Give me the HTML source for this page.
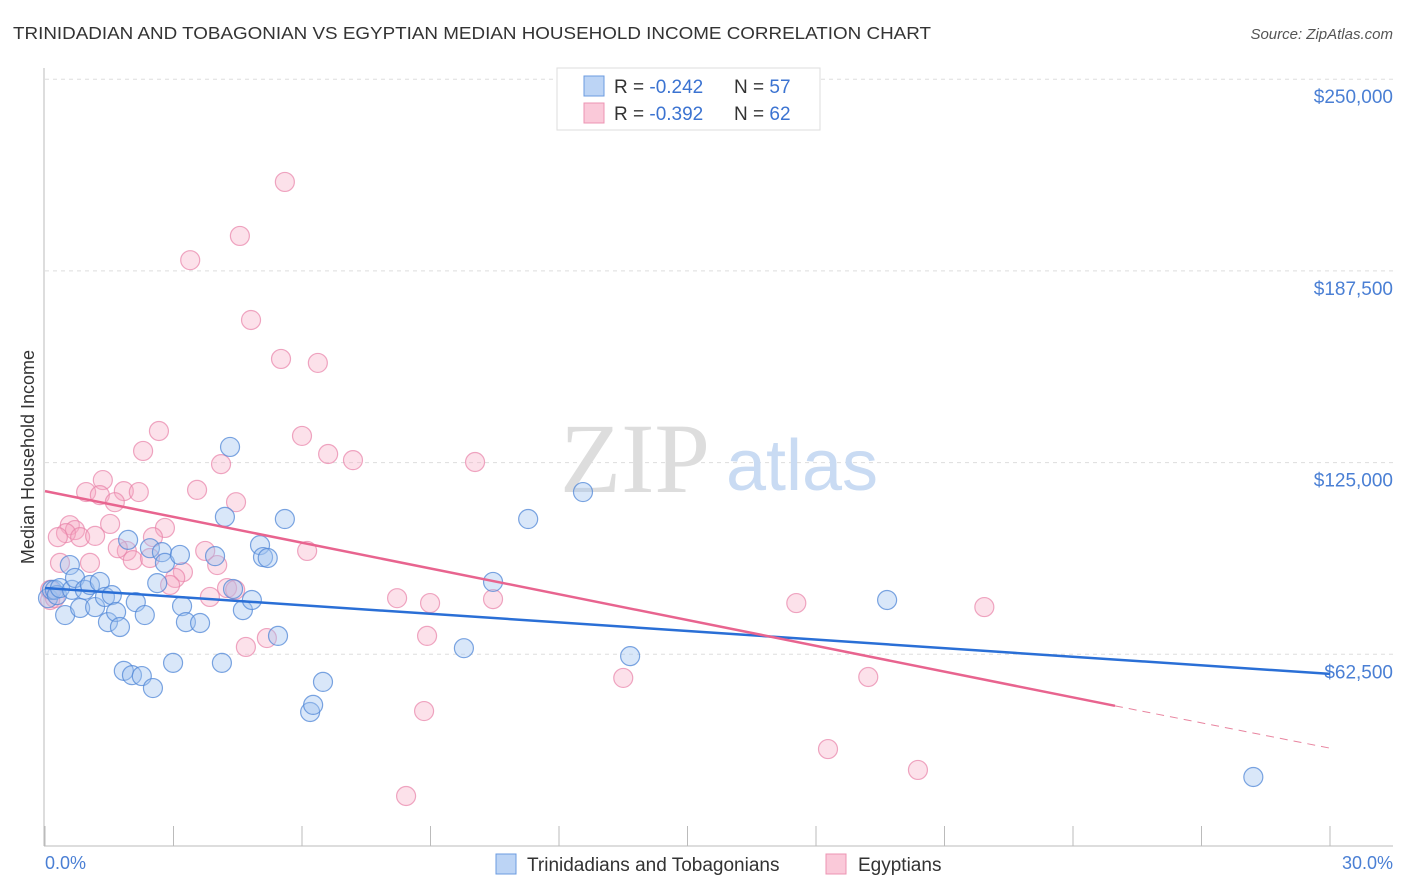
<!DOCTYPE html>
<html><head><meta charset="utf-8"><style>
body{margin:0;background:#fff;font-family:"Liberation Sans",sans-serif}
svg{display:block}
</style></head><body>
<svg width="1406" height="892" viewBox="0 0 1406 892">
<text x="13" y="39" font-size="17.5" fill="#333" textLength="918" lengthAdjust="spacingAndGlyphs">TRINIDADIAN AND TOBAGONIAN VS EGYPTIAN MEDIAN HOUSEHOLD INCOME CORRELATION CHART</text>
<text x="1393" y="39" font-size="15" fill="#555" font-style="italic" text-anchor="end">Source: ZipAtlas.com</text>
<g id="grid"></g>
<g>
<text x="635" y="492" font-size="100" font-family="Liberation Serif,serif" fill="#ddd" text-anchor="middle">ZIP</text>
<text x="802" y="490" font-size="72" fill="#c9dbf3" text-anchor="middle">atlas</text>
</g>
<g id="axes"></g>
<g id="pts"></g>
<g id="lines"></g>
<text transform="translate(34,457) rotate(-90)" font-size="18" fill="#333" text-anchor="middle">Median Household Income</text>
<text x="45" y="869" font-size="18" fill="#4a7fd4">0.0%</text>
<text x="1393" y="869" font-size="18" fill="#4a7fd4" text-anchor="end">30.0%</text>
<g>
<rect x="557" y="68" width="263" height="62" fill="#fff" stroke="#ddd"/>
<rect x="584" y="76" width="20" height="20" fill="#bcd4f5" stroke="#6b9be0"/>
<rect x="584" y="103" width="20" height="20" fill="#fac9d9" stroke="#ec94b3"/>
<text x="614" y="93" font-size="19" fill="#333">R = <tspan fill="#3b73d1">-0.242</tspan></text>
<text x="734" y="93" font-size="19" fill="#333">N = <tspan fill="#3b73d1">57</tspan></text>
<text x="614" y="120" font-size="19" fill="#333">R = <tspan fill="#3b73d1">-0.392</tspan></text>
<text x="734" y="120" font-size="19" fill="#333">N = <tspan fill="#3b73d1">62</tspan></text>
</g>
<g>
<rect x="496" y="854" width="20" height="20" fill="#bcd4f5" stroke="#6b9be0"/>
<text x="527" y="871" font-size="19" fill="#333">Trinidadians and Tobagonians</text>
<rect x="826" y="854" width="20" height="20" fill="#fac9d9" stroke="#ec94b3"/>
<text x="858" y="871" font-size="19" fill="#333">Egyptians</text>
</g>
</svg>
<script>
const yTicks=[62500,125000,187500,250000];
const yTickLabels=["$62,500","$125,000","$187,500","$250,000"];
const blueX=[0.07,0.16,0.23,0.28,0.35,0.47,0.58,0.63,0.70,0.82,0.93,1.05,1.17,1.28,1.40,1.47,1.56,1.66,1.75,1.84,1.94,2.03,2.12,2.26,2.33,2.45,2.52,2.62,2.73,2.80,2.99,3.15,3.20,3.29,3.62,3.97,4.13,4.20,4.32,4.39,4.62,4.83,5.02,5.09,5.20,5.44,5.60,6.19,6.26,6.49,9.78,10.46,11.28,12.56,13.66,19.66,28.21];
const blueY=[80.8,83.5,83.5,81.8,84.1,75.3,91.6,83.5,87.4,77.6,83.5,85.1,77.9,86.1,81.2,73.0,81.8,76.3,71.4,57.1,99.8,55.7,79.5,55.4,75.3,97.1,51.5,85.7,95.8,92.3,59.7,94.9,78.2,73.0,72.7,94.5,59.7,107.3,130.1,83.8,76.9,80.2,98.1,94.2,93.9,68.5,106.6,43.7,46.0,53.5,64.5,86.1,106.6,115.4,61.9,80.2,22.5];
const pinkX=[5.60,4.55,3.39,4.81,5.51,6.37,2.66,6.00,2.29,6.61,7.19,10.04,4.11,1.35,0.96,1.28,1.84,2.19,3.55,4.46,1.63,2.80,0.58,0.70,0.49,0.82,1.52,0.30,1.17,2.52,1.91,1.70,2.05,2.45,3.74,6.12,1.05,0.35,4.02,3.22,3.04,2.92,4.25,3.85,4.44,0.12,0.12,0.23,8.22,8.99,10.46,17.54,21.93,5.18,4.69,8.92,13.50,19.22,8.85,18.28,20.38,8.43];
const pinkY=[216.5,198.9,191.0,171.5,158.8,157.5,135.3,133.7,128.8,127.8,125.8,125.2,124.5,119.3,115.4,114.4,115.7,115.4,116.1,112.1,112.1,103.7,104.6,103.0,102.0,100.7,105.0,100.7,101.1,100.7,96.2,97.1,93.2,93.9,96.2,96.2,92.3,92.3,91.6,89.3,87.4,85.1,84.1,81.2,83.5,83.5,80.2,80.8,80.8,79.2,80.5,79.2,77.9,67.8,64.9,68.5,54.8,55.1,44.0,31.6,24.8,16.3];
const blueTrend=[[0,84.1],[30,56.1]];
const pinkTrend=[[0,115.7],[24.98,45.7],[30,31.9]];
const NS="http://www.w3.org/2000/svg";
const X=v=>45+v/30*1285;
const Y=v=>846-v/62.5*191.7;
function mk(t,a,p){const e=document.createElementNS(NS,t);for(const k in a)e.setAttribute(k,a[k]);p.appendChild(e);return e;}
const grid=document.getElementById('grid');
yTicks.forEach((t,i)=>{const y=Y(t/1000);
const l=mk('line',{x1:45,x2:1393,y1:y,y2:y,stroke:'#ddd','stroke-dasharray':'4,4'},grid);


const tx=mk('text',{x:1393,y:y+24,'font-size':19,fill:'#4a7fd4','text-anchor':'end'},grid);
tx.textContent=yTickLabels[i];

});
const axes=document.getElementById('axes');
const ya=mk('line',{x1:44,x2:44,y1:68,y2:846,stroke:'#bbb'},axes);


const xa=mk('line',{x1:44,x2:1393,y1:846,y2:846,stroke:'#bbb'},axes);


for(let i=0;i<=10;i++){const x=X(i*3);
const t=mk('line',{x1:x,x2:x,y1:826,y2:846,stroke:'#bbb'},axes);

}
const pts=document.getElementById('pts');
pinkX.forEach((v,i)=>{const c=mk('circle',{cx:X(v),cy:Y(pinkY[i]),r:9.5,fill:'rgba(245,170,196,0.35)',stroke:'rgba(232,130,168,0.7)','stroke-width':1.2},pts);

});
blueX.forEach((v,i)=>{const c=mk('circle',{cx:X(v),cy:Y(blueY[i]),r:9.5,fill:'rgba(160,195,240,0.4)',stroke:'rgba(80,135,215,0.75)','stroke-width':1.2},pts);

});
const lines=document.getElementById('lines');
const bl=mk('line',{x1:X(blueTrend[0][0]),y1:Y(blueTrend[0][1]),x2:X(blueTrend[1][0]),y2:Y(blueTrend[1][1]),stroke:'#2a6fd6','stroke-width':2.5},lines);


const pl=mk('line',{x1:X(pinkTrend[0][0]),y1:Y(pinkTrend[0][1]),x2:X(pinkTrend[1][0]),y2:Y(pinkTrend[1][1]),stroke:'#e8648f','stroke-width':2.5},lines);


const pd=mk('line',{x1:X(pinkTrend[1][0]),y1:Y(pinkTrend[1][1]),x2:X(pinkTrend[2][0]),y2:Y(pinkTrend[2][1]),stroke:'#e8849f','stroke-width':1,'stroke-dasharray':'8,6'},lines);


</script>
</body></html>
